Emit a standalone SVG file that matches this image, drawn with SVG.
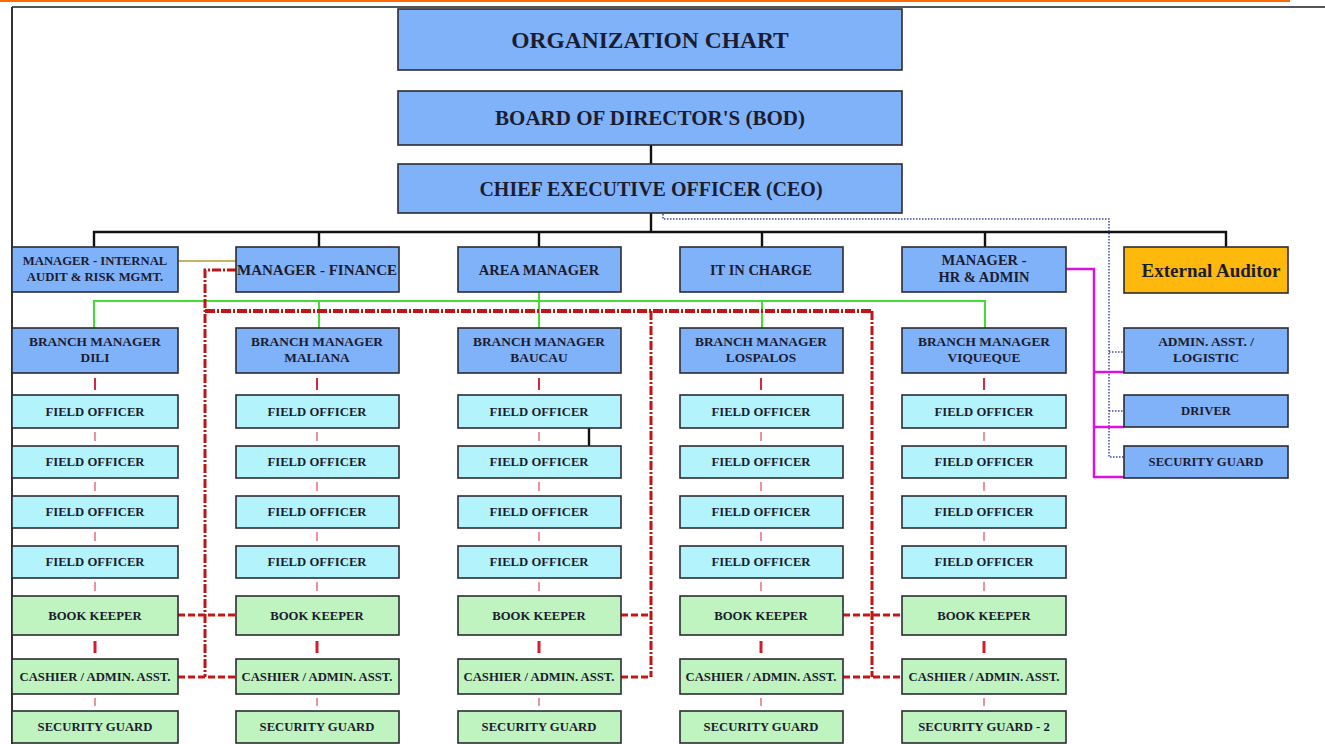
<svg xmlns="http://www.w3.org/2000/svg" width="1325" height="744" viewBox="0 0 1325 744">
<style>
  .b{fill:#80B2FA;stroke:#2b2b33;stroke-width:1.6}
  .c{fill:#B3F3FB;stroke:#2b2b33;stroke-width:1.6}
  .g{fill:#BFF3BF;stroke:#2b2b33;stroke-width:1.6}
  .o{fill:#FFB80C;stroke:#2b2b33;stroke-width:1.6}
  text{font-family:"Liberation Serif","Times New Roman",serif;font-weight:bold;fill:#1c1c30;text-anchor:middle}
  .s{font-size:12.7px}
  .bm{font-size:13.4px}
  .m{font-size:14.5px}
  .blk{stroke:#111;stroke-width:2.4;fill:none}
  .grn{stroke:#44DD33;stroke-width:2;fill:none}
  .rdd{stroke:#C01515;stroke-width:3;fill:none;stroke-dasharray:9 2 2 2}
  .rdh{stroke:#C01515;stroke-width:4;fill:none;stroke-dasharray:10 2 2 2}
  .rdb{stroke:#C41818;stroke-width:3;fill:none;stroke-dasharray:7 3}
  .tk{stroke:#D22A3A;stroke-width:2;fill:none}
  .tn{stroke:#E4707E;stroke-width:1.5;fill:none}
  .tb{stroke:#D02030;stroke-width:3;fill:none}
  .dot{stroke:#3A48A8;stroke-width:1.5;fill:none;stroke-dasharray:1.5 1.5}
  .mag{stroke:#DD11DD;stroke-width:2.5;fill:none}
</style>
<rect width="1325" height="744" fill="#ffffff"/>
<g id="page">
  <line x1="0" y1="1" x2="1290" y2="1" stroke="#FF6A00" stroke-width="2"/>
  <line x1="12" y1="7" x2="1325" y2="7" stroke="#555" stroke-width="2"/>
  <line x1="12" y1="7" x2="12" y2="744" stroke="#333" stroke-width="2"/>
</g>
<g id="connectors">
  <path class="blk" d="M651 145V164M651 213V232M94 247V232H1226V247M319 232V247M539 232V247M762 232V247M985 232V247"/>
  <path class="blk" d="M589 428V446"/>
  <line x1="178" y1="261" x2="236" y2="261" stroke="#B59B2E" stroke-width="1.6"/>
  <path class="grn" d="M539 292V328M94 328V301H985V328M319 301V328M762 301V328"/>
  <path class="dot" d="M663 214V219H1109V457H1124M1109 352H1124M1109 411H1124"/>
  <path class="mag" d="M1066 269H1094V477H1124M1094 372H1124M1094 427H1124"/>
  <path class="rdd" d="M236 270H205V677M872 311V677M651 311V677"/>
  <path class="rdh" d="M205 311H872"/>
  <path class="rdb" d="M178 615H236M178 677H236M621 615H651M621 677H651M843 615H902M843 677H902"/>
  <g id="col-links">
    <path class="tk" d="M95 378V390M317 378V390M539 378V390M761 378V390M984 378V390"/>
    <path class="tn" d="M95 432V441M317 432V441M539 432V441M761 432V441M984 432V441"/>
    <path class="tn" d="M95 482V491M317 482V491M539 482V491M761 482V491M984 482V491"/>
    <path class="tn" d="M95 532V541M317 532V541M539 532V541M761 532V541M984 532V541"/>
    <path class="tn" d="M95 582V591M317 582V591M539 582V591M761 582V591M984 582V591"/>
    <path class="tb" d="M95 641V653M317 641V653M539 641V653M761 641V653M984 641V653"/>
    <path class="tn" d="M95 698V706M317 698V706M539 698V706M761 698V706M984 698V706"/>
  </g>
</g>
<g id="title"><rect class="b" x="398" y="9" width="504" height="61"/><text x="650" y="48" style="font-size:23.5px">ORGANIZATION CHART</text></g>
<g id="bod"><rect class="b" x="398" y="91" width="504" height="54"/><text x="650" y="125" style="font-size:21px">BOARD OF DIRECTOR'S (BOD)</text></g>
<g id="ceo"><rect class="b" x="398" y="164" width="504" height="49"/><text x="651" y="196" style="font-size:20px">CHIEF EXECUTIVE OFFICER (CEO)</text></g>

<g id="internal-audit"><rect class="b" x="12" y="247" width="166" height="45"/><text class="s" x="95" y="265">MANAGER - INTERNAL</text><text class="s" x="95" y="281">AUDIT &amp; RISK MGMT.</text></g>
<g id="finance"><rect class="b" x="236" y="247" width="163" height="45"/><text x="317" y="275" style="font-size:15px">MANAGER - FINANCE</text></g>
<g id="area-manager"><rect class="b" x="458" y="247" width="163" height="45"/><text class="m" x="539" y="275">AREA MANAGER</text></g>
<g id="it"><rect class="b" x="680" y="247" width="163" height="45"/><text class="m" x="761" y="275">IT IN CHARGE</text></g>
<g id="hr"><rect class="b" x="902" y="247" width="164" height="45"/><text class="m" x="984" y="265">MANAGER -</text><text class="m" x="984" y="282">HR &amp; ADMIN</text></g>
<g id="external-auditor"><rect class="o" x="1124" y="247" width="164" height="46"/><text x="1211" y="277" style="font-size:19px">External Auditor</text></g>

<g id="admin-asst"><rect class="b" x="1124" y="328" width="164" height="45"/><text class="bm" x="1206" y="346">ADMIN. ASST. /</text><text class="bm" x="1206" y="362">LOGISTIC</text></g>
<g id="driver"><rect class="b" x="1124" y="395" width="164" height="32"/><text class="s" x="1206" y="415">DRIVER</text></g>
<g id="hq-security"><rect class="b" x="1124" y="446" width="164" height="32"/><text class="s" x="1206" y="466">SECURITY GUARD</text></g>

<g id="bm-dili"><rect class="b" x="12" y="328" width="166" height="45"/><text class="bm" x="95" y="346">BRANCH MANAGER</text><text class="bm" x="95" y="362">DILI</text></g>
<g id="dili-fo1"><rect class="c" x="12" y="395" width="166" height="33"/><text class="s" x="95" y="416">FIELD OFFICER</text></g>
<g id="dili-fo2"><rect class="c" x="12" y="446" width="166" height="32"/><text class="s" x="95" y="466">FIELD OFFICER</text></g>
<g id="dili-fo3"><rect class="c" x="12" y="496" width="166" height="32"/><text class="s" x="95" y="516">FIELD OFFICER</text></g>
<g id="dili-fo4"><rect class="c" x="12" y="546" width="166" height="32"/><text class="s" x="95" y="566">FIELD OFFICER</text></g>
<g id="dili-bk"><rect class="g" x="12" y="596" width="166" height="39"/><text class="s" x="95" y="620">BOOK KEEPER</text></g>
<g id="dili-ca"><rect class="g" x="12" y="659" width="166" height="35"/><text class="s" x="95" y="681">CASHIER / ADMIN. ASST.</text></g>
<g id="dili-sg"><rect class="g" x="12" y="711" width="166" height="32"/><text class="s" x="95" y="731">SECURITY GUARD</text></g>

<g id="bm-maliana"><rect class="b" x="236" y="328" width="163" height="45"/><text class="bm" x="317" y="346">BRANCH MANAGER</text><text class="bm" x="317" y="362">MALIANA</text></g>
<g id="maliana-fo1"><rect class="c" x="236" y="395" width="163" height="33"/><text class="s" x="317" y="416">FIELD OFFICER</text></g>
<g id="maliana-fo2"><rect class="c" x="236" y="446" width="163" height="32"/><text class="s" x="317" y="466">FIELD OFFICER</text></g>
<g id="maliana-fo3"><rect class="c" x="236" y="496" width="163" height="32"/><text class="s" x="317" y="516">FIELD OFFICER</text></g>
<g id="maliana-fo4"><rect class="c" x="236" y="546" width="163" height="32"/><text class="s" x="317" y="566">FIELD OFFICER</text></g>
<g id="maliana-bk"><rect class="g" x="236" y="596" width="163" height="39"/><text class="s" x="317" y="620">BOOK KEEPER</text></g>
<g id="maliana-ca"><rect class="g" x="236" y="659" width="163" height="35"/><text class="s" x="317" y="681">CASHIER / ADMIN. ASST.</text></g>
<g id="maliana-sg"><rect class="g" x="236" y="711" width="163" height="32"/><text class="s" x="317" y="731">SECURITY GUARD</text></g>

<g id="bm-baucau"><rect class="b" x="458" y="328" width="163" height="45"/><text class="bm" x="539" y="346">BRANCH MANAGER</text><text class="bm" x="539" y="362">BAUCAU</text></g>
<g id="baucau-fo1"><rect class="c" x="458" y="395" width="163" height="33"/><text class="s" x="539" y="416">FIELD OFFICER</text></g>
<g id="baucau-fo2"><rect class="c" x="458" y="446" width="163" height="32"/><text class="s" x="539" y="466">FIELD OFFICER</text></g>
<g id="baucau-fo3"><rect class="c" x="458" y="496" width="163" height="32"/><text class="s" x="539" y="516">FIELD OFFICER</text></g>
<g id="baucau-fo4"><rect class="c" x="458" y="546" width="163" height="32"/><text class="s" x="539" y="566">FIELD OFFICER</text></g>
<g id="baucau-bk"><rect class="g" x="458" y="596" width="163" height="39"/><text class="s" x="539" y="620">BOOK KEEPER</text></g>
<g id="baucau-ca"><rect class="g" x="458" y="659" width="163" height="35"/><text class="s" x="539" y="681">CASHIER / ADMIN. ASST.</text></g>
<g id="baucau-sg"><rect class="g" x="458" y="711" width="163" height="32"/><text class="s" x="539" y="731">SECURITY GUARD</text></g>

<g id="bm-lospalos"><rect class="b" x="680" y="328" width="163" height="45"/><text class="bm" x="761" y="346">BRANCH MANAGER</text><text class="bm" x="761" y="362">LOSPALOS</text></g>
<g id="lospalos-fo1"><rect class="c" x="680" y="395" width="163" height="33"/><text class="s" x="761" y="416">FIELD OFFICER</text></g>
<g id="lospalos-fo2"><rect class="c" x="680" y="446" width="163" height="32"/><text class="s" x="761" y="466">FIELD OFFICER</text></g>
<g id="lospalos-fo3"><rect class="c" x="680" y="496" width="163" height="32"/><text class="s" x="761" y="516">FIELD OFFICER</text></g>
<g id="lospalos-fo4"><rect class="c" x="680" y="546" width="163" height="32"/><text class="s" x="761" y="566">FIELD OFFICER</text></g>
<g id="lospalos-bk"><rect class="g" x="680" y="596" width="163" height="39"/><text class="s" x="761" y="620">BOOK KEEPER</text></g>
<g id="lospalos-ca"><rect class="g" x="680" y="659" width="163" height="35"/><text class="s" x="761" y="681">CASHIER / ADMIN. ASST.</text></g>
<g id="lospalos-sg"><rect class="g" x="680" y="711" width="163" height="32"/><text class="s" x="761" y="731">SECURITY GUARD</text></g>

<g id="bm-viqueque"><rect class="b" x="902" y="328" width="164" height="45"/><text class="bm" x="984" y="346">BRANCH MANAGER</text><text class="bm" x="984" y="362">VIQUEQUE</text></g>
<g id="viqueque-fo1"><rect class="c" x="902" y="395" width="164" height="33"/><text class="s" x="984" y="416">FIELD OFFICER</text></g>
<g id="viqueque-fo2"><rect class="c" x="902" y="446" width="164" height="32"/><text class="s" x="984" y="466">FIELD OFFICER</text></g>
<g id="viqueque-fo3"><rect class="c" x="902" y="496" width="164" height="32"/><text class="s" x="984" y="516">FIELD OFFICER</text></g>
<g id="viqueque-fo4"><rect class="c" x="902" y="546" width="164" height="32"/><text class="s" x="984" y="566">FIELD OFFICER</text></g>
<g id="viqueque-bk"><rect class="g" x="902" y="596" width="164" height="39"/><text class="s" x="984" y="620">BOOK KEEPER</text></g>
<g id="viqueque-ca"><rect class="g" x="902" y="659" width="164" height="35"/><text class="s" x="984" y="681">CASHIER / ADMIN. ASST.</text></g>
<g id="viqueque-sg"><rect class="g" x="902" y="711" width="164" height="32"/><text class="s" x="984" y="731">SECURITY GUARD - 2</text></g>
</svg>
